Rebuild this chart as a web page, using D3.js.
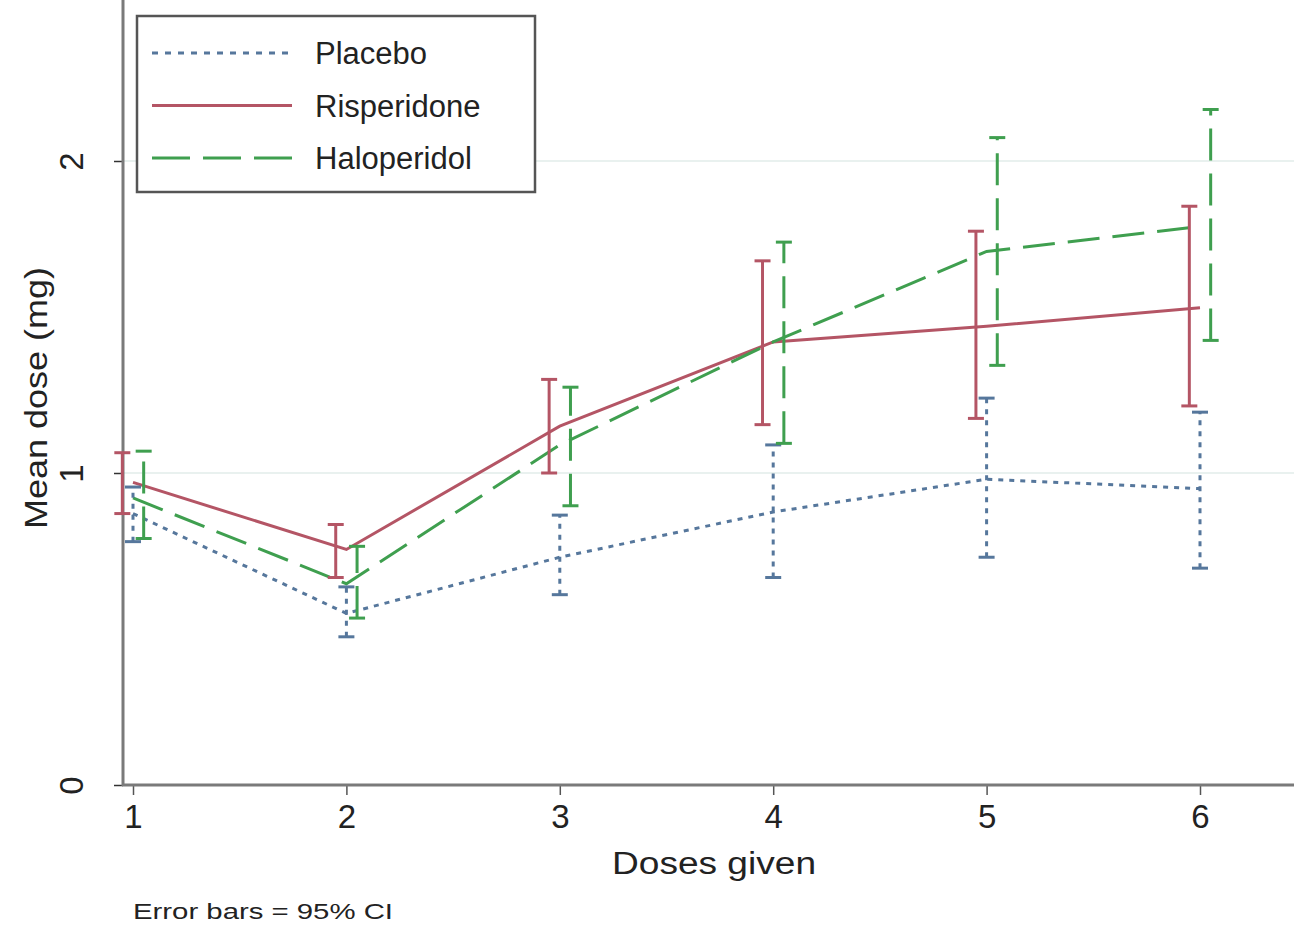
<!DOCTYPE html>
<html>
<head>
<meta charset="utf-8">
<script src="https://cdn.jsdelivr.net/npm/d3@7"></script>
<style>
  body { margin: 0; background: #fff; }
  svg { display: block; font-family: "Liberation Sans", Arial, sans-serif; }
</style>
</head>
<body>
<svg id="chart" width="1294" height="926"></svg>
<script>
// Chart data
const doses = [1, 2, 3, 4, 5, 6];
const yTicks = [0, 1, 2];

const placeboMean = [0.87, 0.55, 0.73, 0.875, 0.98, 0.95];
const placeboLo = [0.78, 0.475, 0.61, 0.665, 0.73, 0.695];
const placeboHi = [0.955, 0.635, 0.865, 1.09, 1.24, 1.195];

const risperidoneMean = [0.97, 0.755, 1.15, 1.42, 1.47, 1.53];
const risperidoneLo = [0.87, 0.665, 1.0, 1.155, 1.175, 1.215];
const risperidoneHi = [1.065, 0.835, 1.3, 1.68, 1.775, 1.855];

const haloperidolMean = [0.92, 0.645, 1.09, 1.42, 1.71, 1.79];
const haloperidolLo = [0.79, 0.535, 0.895, 1.095, 1.345, 1.425];
const haloperidolHi = [1.07, 0.765, 1.275, 1.74, 2.075, 2.165];

const seriesNames = ["Placebo", "Risperidone", "Haloperidol"];

// Build series table for drawing
const series = [
    { name: seriesNames[0], mean: placeboMean, lo: placeboLo, hi: placeboHi,
      color: "#56779c", dash: "5,6", legendDash: "6,7", offset: 0 },
    { name: seriesNames[1], mean: risperidoneMean, lo: risperidoneLo, hi: risperidoneHi,
      color: "#b45565", dash: null, legendDash: null, offset: -0.05 },
    { name: seriesNames[2], mean: haloperidolMean, lo: haloperidolLo, hi: haloperidolHi,
      color: "#3f9f4f", dash: "32,13", legendDash: "38,13", offset: 0.05 }
];

const svg = d3.select("#chart");

const x = d3.scaleLinear().domain([1, 6]).range([133, 1200]);
const y = d3.scaleLinear().domain([0, 2.5]).range([785, 5]);

const axisColor = "#7a7a7a";

// Grid lines
svg.append("g")
    .selectAll("line")
    .data(yTicks.filter(d => d > 0))
    .join("line")
    .attr("x1", 123).attr("x2", 1294)
    .attr("y1", d => y(d)).attr("y2", d => y(d))
    .attr("stroke", "#e2ecea")
    .attr("stroke-width", 1.5);

// Y axis
const yAxis = svg.append("g")
    .attr("transform", "translate(123,0)")
    .call(d3.axisLeft(y).tickValues(yTicks).tickSize(9).tickFormat(d3.format("d")));
yAxis.select(".domain").remove();
yAxis.selectAll(".tick line").attr("stroke", "#333").attr("stroke-width", 1.5);
yAxis.selectAll(".tick text")
    .attr("font-size", 33)
    .attr("fill", "#222")
    .attr("text-anchor", "middle")
    .attr("transform", "rotate(-90)")
    .attr("x", 0)
    .attr("y", -52)
    .attr("dy", "0.35em");

svg.append("line")
    .attr("x1", 123).attr("x2", 123)
    .attr("y1", 0).attr("y2", 786)
    .attr("stroke", axisColor).attr("stroke-width", 3);

// X axis
const xAxis = svg.append("g")
    .attr("transform", "translate(0,785)")
    .call(d3.axisBottom(x).tickValues(doses).tickSize(10).tickPadding(10).tickFormat(d3.format("d")));
xAxis.select(".domain").remove();
xAxis.selectAll(".tick line").attr("stroke", "#555").attr("stroke-width", 1.5);
xAxis.selectAll(".tick text")
    .attr("font-size", 33)
    .attr("fill", "#222");

svg.append("line")
    .attr("x1", 122).attr("x2", 1294)
    .attr("y1", 785).attr("y2", 785)
    .attr("stroke", axisColor).attr("stroke-width", 3);

// Axis titles
svg.append("text")
    .attr("x", 714).attr("y", 874)
    .attr("text-anchor", "middle")
    .attr("font-size", 31)
    .attr("fill", "#222")
    .attr("textLength", 204)
    .attr("lengthAdjust", "spacingAndGlyphs")
    .text("Doses given");

svg.append("text")
    .attr("transform", "translate(47,398) rotate(-90)")
    .attr("text-anchor", "middle")
    .attr("font-size", 31)
    .attr("fill", "#222")
    .attr("textLength", 262)
    .attr("lengthAdjust", "spacingAndGlyphs")
    .text("Mean dose (mg)");

svg.append("text")
    .attr("x", 133).attr("y", 919)
    .attr("font-size", 22)
    .attr("fill", "#222")
    .attr("textLength", 260)
    .attr("lengthAdjust", "spacingAndGlyphs")
    .text("Error bars = 95% CI");

// Mean lines
const line = d3.line()
    .x((d, i) => x(doses[i]))
    .y(d => y(d));

series.forEach(s => {
    svg.append("path")
        .datum(s.mean)
        .attr("d", line)
        .attr("fill", "none")
        .attr("stroke", s.color)
        .attr("stroke-width", 3)
        .attr("stroke-dasharray", s.dash);
});

// Error bars (vertical keeps the series pattern, caps are solid)
series.forEach(s => {
    const g = svg.append("g");
    doses.forEach((d, i) => {
        const bx = x(d + s.offset);
        g.append("line")
            .attr("x1", bx).attr("x2", bx)
            .attr("y1", y(s.lo[i])).attr("y2", y(s.hi[i]))
            .attr("stroke", s.color)
            .attr("stroke-width", 3)
            .attr("stroke-dasharray", s.dash);
        [s.lo[i], s.hi[i]].forEach(v => {
            g.append("line")
                .attr("x1", bx - 8).attr("x2", bx + 8)
                .attr("y1", y(v)).attr("y2", y(v))
                .attr("stroke", s.color)
                .attr("stroke-width", 3);
        });
    });
});

// Legend
const legend = svg.append("g");
legend.append("rect")
    .attr("x", 137).attr("y", 16)
    .attr("width", 398).attr("height", 176)
    .attr("fill", "#fff")
    .attr("stroke", "#555")
    .attr("stroke-width", 2.5);

series.forEach((s, i) => {
    const ly = 53 + i * 52.5;
    legend.append("line")
        .attr("x1", 152).attr("x2", 292)
        .attr("y1", ly).attr("y2", ly)
        .attr("stroke", s.color)
        .attr("stroke-width", 3)
        .attr("stroke-dasharray", s.legendDash);
    legend.append("text")
        .attr("x", 315).attr("y", ly + 11)
        .attr("font-size", 31)
        .attr("fill", "#222")
        .text(s.name);
});
</script>
</body>
</html>
